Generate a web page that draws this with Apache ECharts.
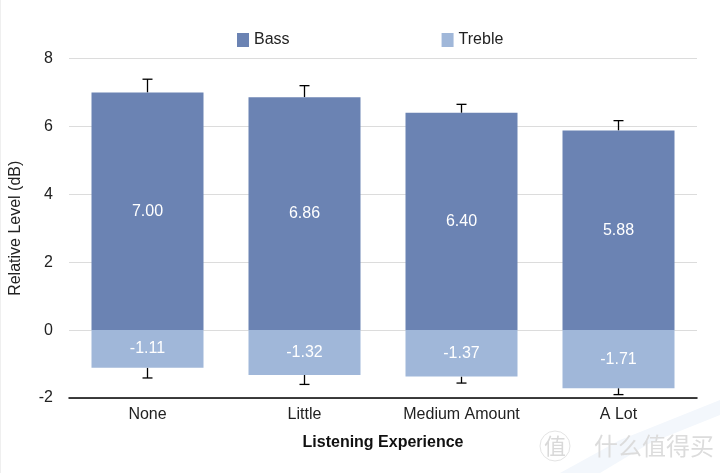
<!DOCTYPE html>
<html><head><meta charset="utf-8">
<style>html,body{margin:0;padding:0;background:#fff}#c{width:720px;height:473px}</style>
<script src="https://cdn.jsdelivr.net/npm/echarts@6/dist/echarts.min.js"></script>
</head><body><div id="c"></div>
<script>
const categories = ['None','Little','Medium Amount','A Lot'];
const bass = [7.00,6.86,6.40,5.88];
const treble = [-1.11,-1.32,-1.37,-1.71];
const bassErrTop = [7.39,7.20,6.65,6.17];
const trebleErrBottom = [-1.41,-1.60,-1.56,-1.90];
const FONT = '"Liberation Sans", Arial, sans-serif';
const chart = echarts.init(document.getElementById('c'));
function errItem(dir){
  return function(params, api){
    const base = api.coord([api.value(0), api.value(1)]);
    const end = api.coord([api.value(0), api.value(2)]);
    const style = {stroke:'#000', lineWidth:1.3};
    const x = base[0];
    return {type:'group', children:[
      {type:'line', shape:{x1:x,y1:base[1],x2:x,y2:end[1]}, style},
      {type:'line', shape:{x1:x-5,y1:end[1],x2:x+5,y2:end[1]}, style}
    ]};
  };
}
const barLabel = {show:true, color:'#fff', fontFamily:FONT, fontSize:16, formatter:p=>p.value.toFixed(2)};
chart.setOption({
  animation:false,
  backgroundColor:'#fff',
  graphic:[
    {type:'rect', z:-10, shape:{x:0,y:0,width:1,height:473}, style:{fill:'#efefef'}},
    {type:'polygon', z:-10, shape:{points:[[560,473],[620,440],[720,400],[720,415],[650,443],[600,473]]}, style:{fill:'#f3f7fc'}},
    {type:'text', z:-5, style:{x:555,y:446,text:'值',font:'22px "Noto Sans CJK SC"',fill:'#d9d9d9',textAlign:'center',textVerticalAlign:'middle'}},
    {type:'circle', z:-5, shape:{cx:555,cy:446,r:15}, style:{fill:'none',stroke:'#e4e4e4',lineWidth:1}},
    {type:'text', z:-5, style:{x:594,y:446,text:'什么值得买',font:'24px "Noto Sans CJK SC"',fill:'#dcdcdc',textVerticalAlign:'middle'}}
  ],
  legend:{
    data:['Bass','Treble'], left:232, top:27, icon:'rect', itemWidth:12, itemHeight:14, itemGap:152,
    textStyle:{fontFamily:FONT, fontSize:16, color:'#222'}
  },
  grid:{left:68, right:23, top:58.5, bottom:75},
  xAxis:{
    type:'category', data:categories,
    axisTick:{show:false},
    axisLine:{onZero:false, lineStyle:{color:'#000', width:1.5}},
    axisLabel:{color:'#222', fontFamily:FONT, fontSize:16, margin:9},
    name:'Listening Experience', nameLocation:'middle', nameGap:37,
    nameTextStyle:{color:'#111', fontFamily:FONT, fontSize:16, fontWeight:'bold'}
  },
  yAxis:{
    type:'value', min:-2, max:8, interval:2,
    axisLine:{show:false}, axisTick:{show:false},
    splitLine:{lineStyle:{color:'#dcdcdc', width:1}},
    axisLabel:{color:'#222', fontFamily:FONT, fontSize:16, margin:16},
    name:'Relative Level (dB)', nameLocation:'middle', nameGap:45,
    nameTextStyle:{color:'#222', fontFamily:FONT, fontSize:16}
  },
  series:[
    {name:'Bass', type:'bar', stack:'t', barWidth:112, data:bass, itemStyle:{color:'#6b83b3'}, label:barLabel},
    {name:'Treble', type:'bar', stack:'t', barWidth:112, data:treble, itemStyle:{color:'#a0b7d9'}, label:barLabel},
    {name:'errBass', type:'custom', z:1, renderItem:errItem(1), encode:{x:0,y:[1,2]}, silent:true,
      data:categories.map((c,i)=>[i,bass[i],bassErrTop[i]])},
    {name:'errTreble', type:'custom', z:1, renderItem:errItem(-1), encode:{x:0,y:[1,2]}, silent:true,
      data:categories.map((c,i)=>[i,treble[i],trebleErrBottom[i]])}
  ]
});
</script></body></html>
